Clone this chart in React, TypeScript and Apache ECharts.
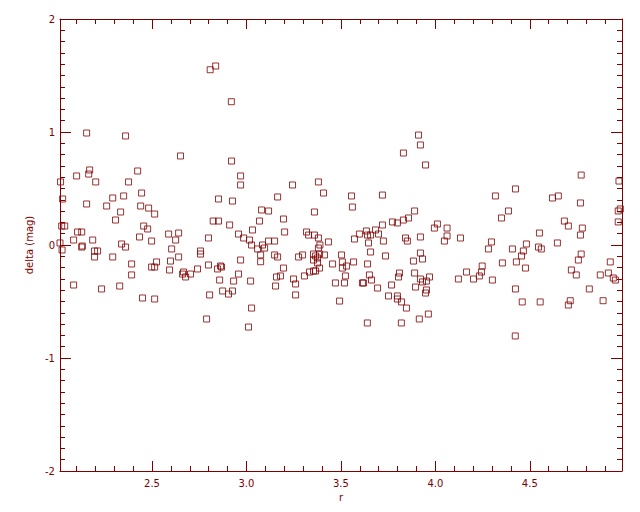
import React, { useEffect, useRef } from "react";
import * as echarts from "echarts";

const X_MIN = 2.013;
const X_MAX = 4.988;
const Y_MIN = -2;
const Y_MAX = 2;
const xMajorTicks = [2.5, 3.0, 3.5, 4.0, 4.5];
const xMinorTicks = [2.1, 2.2, 2.3, 2.4, 2.6, 2.7, 2.8, 2.9, 3.1, 3.2, 3.3, 3.4, 3.6, 3.7, 3.8, 3.9, 4.1, 4.2, 4.3, 4.4, 4.6, 4.7, 4.8, 4.9];

// (r, delta) samples, r between 2.0 and 3.05
const samplesLow: [number, number][] = [
  [2.154, 0.991], [2.36, 0.965], [2.651, 0.788], [2.921, 0.743], [2.17, 0.664], [2.165, 0.628], [2.101, 0.611], [2.424, 0.655],
  [2.969, 0.611], [2.969, 0.531], [2.016, 0.558], [2.202, 0.558], [2.376, 0.558], [2.445, 0.46], [2.027, 0.407], [2.292, 0.416],
  [2.35, 0.434], [2.852, 0.407], [2.926, 0.389], [2.154, 0.363], [2.26, 0.345], [2.44, 0.345], [2.482, 0.327], [2.334, 0.292],
  [2.514, 0.274], [2.307, 0.221], [2.824, 0.212], [2.852, 0.212], [2.911, 0.177], [2.022, 0.168], [2.038, 0.168], [2.456, 0.168],
  [2.477, 0.142], [2.106, 0.115], [2.128, 0.115], [2.588, 0.097], [2.641, 0.106], [2.958, 0.097], [3.032, 0.133], [2.434, 0.071],
  [2.799, 0.062], [2.985, 0.062], [3.016, 0.044], [2.085, 0.044], [2.186, 0.044], [2.625, 0.044], [2.498, 0.035], [2.013, 0.018],
  [2.339, 0.009], [2.36, -0.018], [3.027, 0.0], [2.131, -0.009], [2.128, -0.018], [2.024, -0.044], [2.604, -0.035], [2.196, -0.053],
  [2.212, -0.053], [2.757, -0.053], [2.757, -0.08], [2.196, -0.106], [2.292, -0.106], [2.641, -0.106], [2.969, -0.133], [2.598, -0.142],
  [2.524, -0.15], [2.392, -0.168], [2.799, -0.177], [2.498, -0.195], [2.514, -0.195], [2.863, -0.186], [2.868, -0.195], [2.847, -0.212],
  [2.741, -0.212], [2.593, -0.221], [2.667, -0.239], [2.662, -0.257], [2.678, -0.283], [2.704, -0.257], [2.958, -0.257], [2.392, -0.265],
  [2.858, -0.31], [2.932, -0.319], [3.022, -0.319], [2.085, -0.354], [2.329, -0.363], [2.233, -0.389], [2.874, -0.407], [2.926, -0.407],
  [2.905, -0.434], [2.805, -0.442], [2.45, -0.469], [2.514, -0.478], [3.027, -0.558], [2.789, -0.655], [3.011, -0.726], [2.808, 1.551],
  [2.837, 1.584], [2.92, 1.268],
];

// r between 3.05 and 4.07
const samplesMid: [number, number][] = [
  [3.911, 0.973], [3.921, 0.885], [3.831, 0.814], [3.948, 0.708], [3.244, 0.531], [3.381, 0.558], [3.408, 0.46], [3.165, 0.425],
  [3.556, 0.434], [3.72, 0.442], [3.561, 0.336], [3.36, 0.292], [3.08, 0.31], [3.117, 0.301], [3.89, 0.301], [3.196, 0.23],
  [3.069, 0.212], [3.773, 0.204], [3.799, 0.195], [3.831, 0.221], [3.858, 0.239], [3.72, 0.177], [4.011, 0.186], [3.995, 0.15],
  [4.062, 0.15], [3.202, 0.115], [3.318, 0.115], [3.329, 0.088], [3.36, 0.088], [3.635, 0.124], [3.683, 0.133], [3.598, 0.097],
  [3.641, 0.088], [3.657, 0.088], [3.699, 0.097], [4.062, 0.08], [4.048, 0.035], [3.921, 0.071], [3.842, 0.062], [3.852, 0.035],
  [3.572, 0.053], [3.381, 0.062], [3.646, 0.018], [3.725, 0.035], [3.117, 0.035], [3.149, 0.035], [3.085, 0.0], [3.096, -0.027],
  [3.059, -0.035], [3.434, 0.027], [3.389, 0.0], [3.381, -0.027], [3.657, -0.062], [3.921, -0.071], [3.075, -0.088], [3.075, -0.148],
  [3.149, -0.088], [3.165, -0.106], [3.297, -0.088], [3.276, -0.106], [3.355, -0.08], [3.366, -0.097], [3.376, -0.115], [3.387, -0.08],
  [3.413, -0.088], [3.355, -0.133], [3.376, -0.159], [3.387, -0.204], [3.366, -0.23], [3.503, -0.088], [3.456, -0.168], [3.508, -0.15],
  [3.508, -0.204], [3.53, -0.186], [3.567, -0.15], [3.641, -0.168], [3.736, -0.097], [3.884, -0.142], [3.932, -0.124], [3.196, -0.204],
  [3.159, -0.283], [3.18, -0.274], [3.154, -0.363], [3.249, -0.301], [3.26, -0.345], [3.307, -0.274], [3.334, -0.239], [3.355, -0.23],
  [3.524, -0.274], [3.471, -0.336], [3.519, -0.336], [3.614, -0.336], [3.62, -0.336], [3.651, -0.265], [3.662, -0.31], [3.694, -0.381],
  [3.768, -0.354], [3.81, -0.248], [3.805, -0.283], [3.89, -0.248], [3.921, -0.301], [3.932, -0.327], [3.953, -0.319], [3.969, -0.283],
  [3.895, -0.372], [3.953, -0.398], [3.948, -0.425], [3.752, -0.451], [3.799, -0.451], [3.799, -0.478], [3.821, -0.504], [3.847, -0.558],
  [3.26, -0.442], [3.493, -0.496], [3.64, -0.69], [3.82, -0.69], [3.915, -0.655], [3.963, -0.611],
];

// r between 4.07 and 5.0
const samplesHigh: [number, number][] = [
  [4.423, -0.805], [4.46, -0.504], [4.555, -0.504], [4.704, -0.531], [4.714, -0.493], [4.888, -0.493],
  [4.772, 0.619], [4.972, 0.566], [4.424, 0.496], [4.318, 0.434], [4.62, 0.416], [4.651, 0.434], [4.768, 0.372], [4.387, 0.301],
  [4.35, 0.239], [4.968, 0.301], [4.979, 0.319], [4.683, 0.212], [4.704, 0.168], [4.778, 0.15], [4.768, 0.088], [4.968, 0.204],
  [4.551, 0.106], [4.133, 0.062], [4.297, 0.027], [4.281, -0.035], [4.482, 0.009], [4.466, -0.053], [4.456, -0.097], [4.408, -0.035],
  [4.546, -0.018], [4.561, -0.035], [4.646, 0.018], [4.772, -0.08], [4.757, -0.133], [4.429, -0.15], [4.355, -0.159], [4.477, -0.204],
  [4.248, -0.186], [4.244, -0.239], [4.233, -0.274], [4.165, -0.239], [4.122, -0.301], [4.202, -0.301], [4.302, -0.31], [4.72, -0.221],
  [4.746, -0.265], [4.926, -0.15], [4.873, -0.265], [4.916, -0.248], [4.942, -0.292], [4.953, -0.31], [4.815, -0.389], [4.424, -0.389],
];

const RED = "#800000";
const FONT = "'DejaVu Sans', sans-serif";

export default function App() {
  const ref = useRef<HTMLDivElement>(null);
  useEffect(() => {
    if (!ref.current) return;
    const chart = echarts.init(ref.current, null, { renderer: "svg" });
    const gridBox = { left: 60, right: 18, top: 19, bottom: 41, containLabel: false };
    const line = { show: true, onZero: false, lineStyle: { color: RED, width: 1 } };
    const noLine = { show: false, onZero: false };
    const tickStyle = { color: RED, width: 1 };
    const labelFont = { color: RED, fontSize: 10, fontFamily: FONT };
    const xBase = { type: "value", min: X_MIN, max: X_MAX, splitLine: { show: false } };
    const yBase = { type: "value", min: Y_MIN, max: Y_MAX, interval: 1, splitLine: { show: false }, minorSplitLine: { show: false } };
    chart.setOption({
      animation: false,
      backgroundColor: "#ffffff",
      grid: [gridBox, gridBox],
      xAxis: [
        {
          ...xBase, gridIndex: 0, position: "bottom",
          axisLine: line,
          axisTick: { show: true, inside: true, length: 10, customValues: xMajorTicks, lineStyle: tickStyle },
          axisLabel: { show: true, customValues: xMajorTicks, formatter: (v: number) => v.toFixed(1), margin: 7, ...labelFont },
          name: "r", nameLocation: "middle", nameGap: 19,
          nameTextStyle: { ...labelFont },
        },
        {
          ...xBase, gridIndex: 0, position: "top",
          axisLine: line,
          axisTick: { show: true, inside: true, length: 10, customValues: xMajorTicks, lineStyle: tickStyle },
          axisLabel: { show: false },
        },
        {
          ...xBase, gridIndex: 1, position: "bottom",
          axisLine: noLine,
          axisTick: { show: true, inside: true, length: 5, customValues: xMinorTicks, lineStyle: tickStyle },
          axisLabel: { show: false },
        },
        {
          ...xBase, gridIndex: 1, position: "top",
          axisLine: noLine,
          axisTick: { show: true, inside: true, length: 5, customValues: xMinorTicks, lineStyle: tickStyle },
          axisLabel: { show: false },
        },
      ],
      yAxis: [
        {
          ...yBase, gridIndex: 0, position: "left",
          axisLine: line,
          axisTick: { show: true, inside: true, length: 11, lineStyle: tickStyle },
          minorTick: { show: true, splitNumber: 10, length: 5, lineStyle: tickStyle },
          axisLabel: { show: true, margin: 5, showMinLabel: true, showMaxLabel: true, ...labelFont },
          name: "delta (mag)", nameLocation: "middle", nameGap: 24, nameRotate: 90,
          nameTextStyle: { ...labelFont },
        },
        {
          ...yBase, gridIndex: 0, position: "right",
          axisLine: line,
          axisTick: { show: true, inside: true, length: 11, lineStyle: tickStyle },
          minorTick: { show: true, splitNumber: 10, length: 5, lineStyle: tickStyle },
          axisLabel: { show: false },
        },
        { ...yBase, gridIndex: 1, show: false },
      ],
      series: [
        {
          type: "scatter",
          xAxisIndex: 0,
          yAxisIndex: 0,
          data: [...samplesLow, ...samplesMid, ...samplesHigh],
          symbol: "rect",
          symbolSize: 6,
          itemStyle: { color: "rgba(255,255,255,0)", borderColor: RED, borderWidth: 1 },
          emphasis: { disabled: true },
        },
      ],
    });
    return () => chart.dispose();
  }, []);
  return (
    <div
      ref={ref}
      style={{ position: "absolute", left: 0, top: 0, width: 640, height: 512, background: "#ffffff" }}
    />
  );
}
